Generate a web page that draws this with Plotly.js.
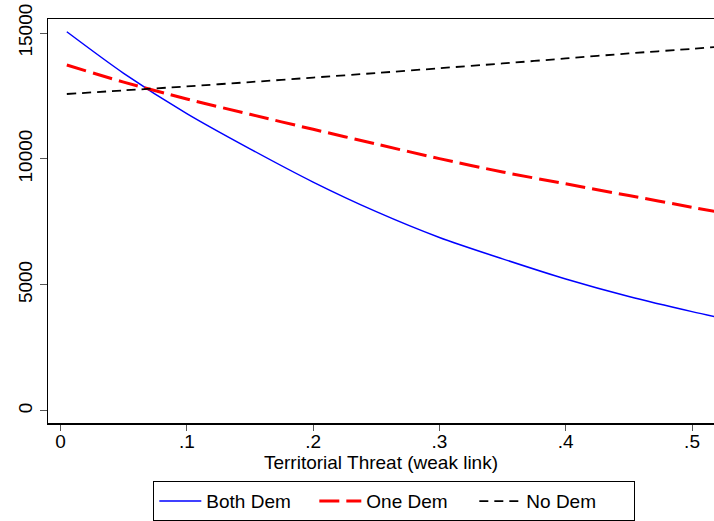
<!DOCTYPE html>
<html>
<head>
<meta charset="utf-8">
<script src="https://cdn.plot.ly/plotly-3.0.1.min.js"></script>
<style>html,body{margin:0;padding:0;background:#fff;}#chart{width:714px;height:521px;}</style>
</head>
<body>
<div id="chart"></div>
<script>
const threat = [0.005, 0.05, 0.1, 0.15, 0.2, 0.25, 0.3, 0.35, 0.4, 0.45, 0.5, 0.52];
const bothDem = [15050, 13400, 11800, 10400, 9080, 7905, 6880, 6030, 5230, 4535, 3935, 3715];
const oneDem  = [13730, 13050, 12380, 11770, 11175, 10590, 10010, 9480, 9010, 8545, 8080, 7895];
const noDem   = [12578, 12720, 12880, 13050, 13230, 13410, 13600, 13790, 13990, 14190, 14370, 14450];
const xTickVals = [0, 0.1, 0.2, 0.3, 0.4, 0.5];
const xTickText = ["0", ".1", ".2", ".3", ".4", ".5"];
const yTickVals = [0, 5000, 10000, 15000];
const yTickText = ["0", "5000", "10000", "15000"];

const FONT = "Liberation Sans, Arial, sans-serif";
const FS = 19;

const traces = [
  {x: threat, y: bothDem, name: "Both Dem", type: "scatter", mode: "lines",
   line: {color: "#0000ff", width: 1.5, shape: "spline", smoothing: 0.8}},
  {x: threat, y: oneDem, name: "One Dem", type: "scatter", mode: "lines",
   line: {color: "#ff0000", width: 3, dash: "20px,7px", shape: "spline", smoothing: 0.8}},
  {x: threat, y: noDem, name: "No Dem", type: "scatter", mode: "lines",
   line: {color: "#000000", width: 1.8, dash: "9px,6px", shape: "spline", smoothing: 0.8}}
];

const layout = {
  width: 714, height: 521,
  margin: {l: 48, r: 0, t: 19, b: 98, autoexpand: false},
  paper_bgcolor: "#ffffff", plot_bgcolor: "#ffffff",
  font: {family: FONT, size: FS, color: "#000"},
  showlegend: true,
  legend: {
    orientation: "h", x: 0.52, xanchor: "center", y: -0.144, yanchor: "top",
    bordercolor: "#000", borderwidth: 1, bgcolor: "#fff",
    font: {family: FONT, size: FS, color: "#000"},
    itemwidth: 42,
    entrywidth: 103, entrywidthmode: "pixels", traceorder: "normal"
  },
  xaxis: {
    range: [-0.0099, 0.5174], tickvals: xTickVals, ticktext: xTickText,
    showgrid: false, zeroline: false, showline: true, linecolor: "#000", linewidth: 1.5,
    mirror: true, ticks: "outside", ticklen: 6, tickcolor: "#555", tickwidth: 1,
    ticklabelstandoff: -5,
    tickfont: {family: FONT, size: FS, color: "#000"},
    title: {text: "Territorial Threat (weak link)", font: {family: FONT, size: FS, color: "#000"}, standoff: 3}
  },
  yaxis: {
    range: [-488, 15556], tickvals: yTickVals, ticktext: yTickText,
    showgrid: false, zeroline: false, showline: true, linecolor: "#000", linewidth: 1.5,
    ticks: "outside", ticklen: 7, tickcolor: "#555", tickwidth: 1, tickangle: -90,
    tickfont: {family: FONT, size: FS, color: "#000"}
  }
};

Plotly.newPlot("chart", traces, layout, {displayModeBar: false, staticPlot: true});
</script>
</body>
</html>
